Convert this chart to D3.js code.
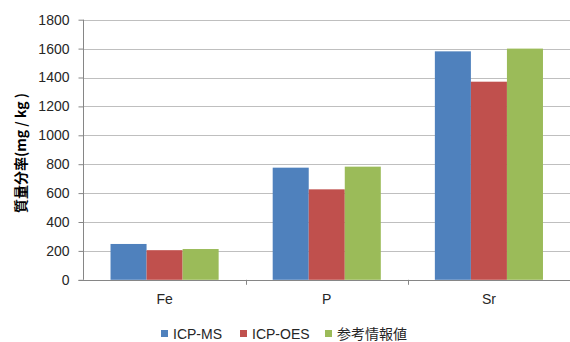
<!DOCTYPE html>
<html><head><meta charset="utf-8">
<script src="https://cdn.jsdelivr.net/npm/d3@7"></script>
<style>body{margin:0;background:#fff}svg{display:block}</style>
</head><body>
<script>
const categories = ["Fe", "P", "Sr"];
const seriesNames = ["ICP-MS", "ICP-OES", "参考情報値"];
const icpMS = [248, 776, 1581];
const icpOES = [205, 626, 1371];
const refValues = [213, 783, 1600];
const yTicks = [0, 200, 400, 600, 800, 1000, 1200, 1400, 1600, 1800];
const colors = ["#4F81BD", "#C0504D", "#9BBB59"];

const W = 570, H = 342;
const m = {left: 83.5, right: 0, top: 19.7, bottom: 62.2};
const series = [icpMS, icpOES, refValues];
const font = "'Liberation Sans', Arial, sans-serif";

const svg = d3.select("body").append("svg").attr("width", W).attr("height", H);
const x = d3.scaleBand().domain(categories).range([m.left, W - m.right]).paddingInner(0).paddingOuter(0);
const xs = d3.scaleBand().domain(d3.range(3)).range([0, x.bandwidth()]).paddingInner(0).paddingOuter(0.75);
const y = d3.scaleLinear().domain([0, 1800]).range([H - m.bottom, m.top]);

// gridlines
svg.append("g").selectAll("line").data(yTicks.slice(1)).join("line")
  .attr("x1", m.left).attr("x2", W - m.right)
  .attr("y1", d => Math.round(y(d)) + 0.5).attr("y2", d => Math.round(y(d)) + 0.5)
  .attr("stroke", "#bfbfbf").attr("stroke-width", 1);

// bars
categories.forEach((c, i) => {
  series.forEach((s, j) => {
    svg.append("rect")
      .attr("x", x(c) + xs(j)).attr("width", xs.bandwidth())
      .attr("y", y(s[i])).attr("height", y(0) - y(s[i]))
      .attr("fill", colors[j]);
  });
});

// y axis
const yAxis = svg.append("g").attr("transform", `translate(${m.left},0)`)
  .call(d3.axisLeft(y).tickValues(yTicks).tickSize(5).tickPadding(9).tickFormat(d3.format("d")));
yAxis.select(".domain").attr("stroke", "#868686").attr("d", `M0,${y(1800)}V${y(0)}`);
yAxis.selectAll(".tick line").attr("stroke", "#868686");
yAxis.selectAll("text").attr("font-family", font).attr("font-size", 14).attr("fill", "#262626");

// x axis
const xAxis = svg.append("g").attr("transform", `translate(0,${Math.round(y(0)) + 0.5})`)
  .call(d3.axisBottom(x).tickSize(0).tickPadding(14));
xAxis.select(".domain").attr("stroke", "#868686").attr("d", `M${m.left - 5},0H${W}`);
xAxis.selectAll("text").attr("font-family", font).attr("font-size", 14).attr("fill", "#262626");
svg.append("g").selectAll("line").data(categories.slice(1)).join("line")
  .attr("x1", d => Math.round(x(d)) + 0.5).attr("x2", d => Math.round(x(d)) + 0.5)
  .attr("y1", y(0)).attr("y2", y(0) + 5).attr("stroke", "#868686");

// y label
svg.append("text").attr("transform", `translate(26,153) rotate(-90)`)
  .attr("text-anchor", "middle").attr("font-family", "'Noto Sans CJK JP', sans-serif")
  .attr("font-size", 14).attr("font-weight", "bold").attr("fill", "#000")
  .text("質量分率(mg / kg )");

// legend
const legX = [161, 240, 325];
const lg = svg.append("g");
seriesNames.forEach((n, j) => {
  lg.append("rect").attr("x", legX[j]).attr("y", 330).attr("width", 7).attr("height", 7).attr("fill", colors[j]);
  lg.append("text").attr("x", legX[j] + 12).attr("y", 338.5)
    .attr("font-family", j === 2 ? "'Noto Sans CJK JP', sans-serif" : font)
    .attr("font-size", j === 2 ? 14 : 14).attr("fill", "#262626").text(n);
});
</script>
</body></html>
